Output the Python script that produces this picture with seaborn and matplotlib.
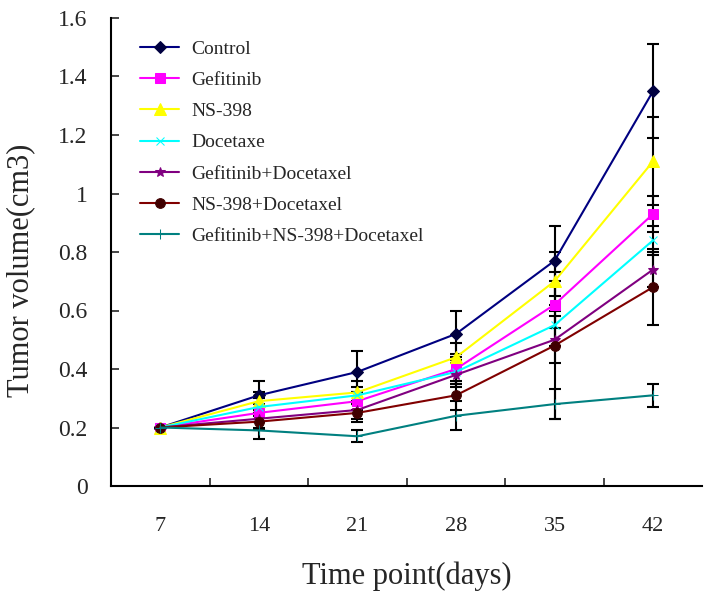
import numpy as np
import pandas as pd
import matplotlib
matplotlib.use("Agg")
import matplotlib.pyplot as plt
import seaborn as sns

days = ["7", "14", "21", "28", "35", "42"]
groups = ["Control", "Gefitinib", "NS-398", "Docetaxe",
          "Gefitinib+Docetaxel", "NS-398+Docetaxel", "Gefitinib+NS-398+Docetaxel"]

control = [0.20, 0.31, 0.39, 0.52, 0.77, 1.35]
gefitinib = [0.20, 0.25, 0.29, 0.40, 0.62, 0.93]
ns398 = [0.20, 0.29, 0.32, 0.44, 0.70, 1.11]
docetaxe = [0.20, 0.27, 0.31, 0.39, 0.55, 0.84]
gef_doc = [0.20, 0.23, 0.26, 0.38, 0.50, 0.74]
ns_doc = [0.20, 0.22, 0.25, 0.31, 0.48, 0.68]
gef_ns_doc = [0.20, 0.19, 0.17, 0.24, 0.28, 0.31]

control_err = [0.0, 0.05, 0.07, 0.08, 0.12, 0.16]
gefitinib_err = [0.0, 0.03, 0.03, 0.05, 0.08, 0.06]
ns398_err = [0.0, 0.03, 0.04, 0.05, 0.10, 0.15]
docetaxe_err = [0.0, 0.03, 0.03, 0.04, 0.07, 0.05]
gef_doc_err = [0.0, 0.03, 0.03, 0.04, 0.08, 0.06]
ns_doc_err = [0.0, 0.03, 0.03, 0.05, 0.25, 0.13]
gef_ns_doc_err = [0.0, 0.03, 0.02, 0.05, 0.05, 0.04]

series = [control, gefitinib, ns398, docetaxe, gef_doc, ns_doc, gef_ns_doc]
errors = [control_err, gefitinib_err, ns398_err, docetaxe_err, gef_doc_err, ns_doc_err, gef_ns_doc_err]
colors = ["#000080", "#FF00FF", "#FFFF00", "#00FFFF", "#800080", "#800000", "#008080"]
mfc = ["#000040", "#FF00FF", "#FFFF00", "#00FFFF", "#800080", "#400000", "#008080"]
markers = ["D", "s", "^", "x", "*", "o", "+"]
msizes = [6, 7, 8, 6, 7, 7, 7]

sns.set_style("white")
plt.rcParams["font.family"] = ["Liberation Serif", "DejaVu Serif"]

fig = plt.figure(figsize=(7.09, 6.0), dpi=100)
ax = fig.add_axes([0.1566, 0.19, 0.834, 0.78])

xpos = np.arange(len(days))
for name, vals, err, c, fc, m, ms in zip(groups, series, errors, colors, mfc, markers, msizes):
    df = pd.DataFrame({"x": xpos, "y": vals})
    ax.errorbar(xpos, vals, yerr=err, fmt="none", ecolor="black", elinewidth=1.5,
                capsize=4.5, capthick=1.5, zorder=1)
    sns.lineplot(data=df, x="x", y="y", ax=ax, color=c, marker=m, markersize=ms,
                 markerfacecolor=fc, markeredgecolor=fc, linewidth=1.5, label=name,
                 zorder=3)

ax.set_xlim(-0.5, 5.5)
ax.set_ylim(0, 1.6)
ax.set_xticks(xpos[:-1] + 0.5)
ax.set_xticklabels([])
ax.set_xticks(xpos, minor=True)
ax.set_xticklabels(days, minor=True)
ax.tick_params(axis="x", which="major", direction="in", length=6, width=1.2, bottom=True)
ax.tick_params(axis="x", which="minor", length=0, labelsize=16, pad=22)
ax.set_yticks(np.arange(0, 1.61, 0.2))
ax.set_yticklabels(["0", "0.2", "0.4", "0.6", "0.8", "1", "1.2", "1.4", "1.6"])
ax.tick_params(axis="y", direction="in", length=6, width=1.2, left=True, labelsize=17, pad=17)

for s in ["top", "right"]:
    ax.spines[s].set_visible(False)
for s in ["left", "bottom"]:
    ax.spines[s].set_color("black")
    ax.spines[s].set_linewidth(1.5)

ax.set_xlabel("Time point(days)", fontsize=22, labelpad=19)
ax.set_ylabel("Tumor volume(cm3)", fontsize=22)
ax.yaxis.set_label_coords(-0.128, 0.46)

ax.legend(loc="upper left", bbox_to_anchor=(0.02, 0.99), frameon=False, fontsize=14,
          handlelength=2.0, labelspacing=0.7, handletextpad=0.6)

fig.savefig("out.png", dpi=100)
